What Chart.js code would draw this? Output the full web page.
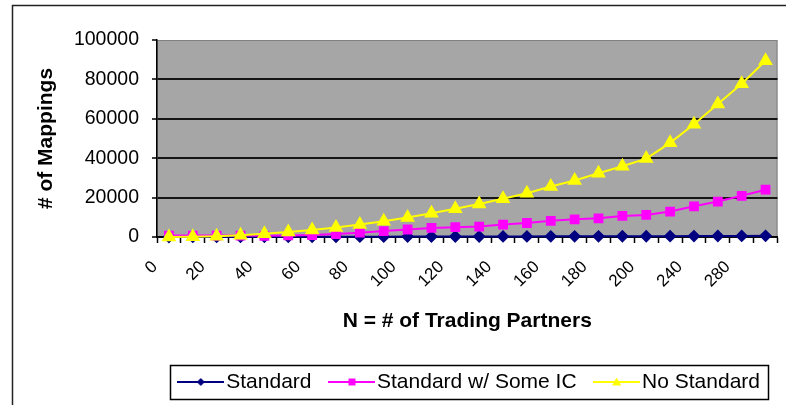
<!DOCTYPE html>
<html>
<head>
<meta charset="utf-8">
<script src="https://cdn.jsdelivr.net/npm/chart.js@4.4.1/dist/chart.umd.min.js"></script>
<style>
  html, body { margin: 0; padding: 0; background: #fff; }
  #c { display: block; }
</style>
</head>
<body>
<canvas id="c" width="786" height="405"></canvas>
<script>
// N = number of trading partners (category axis)
const partners = [0, 10, 20, 30, 40, 50, 60, 70, 80, 90, 100, 110, 120, 130, 140, 150,
                  160, 170, 180, 190, 200, 220, 240, 260, 280, 300];
// categories that carry a visible tick label
const labelledPartners = [0, 20, 40, 60, 80, 100, 120, 140, 160, 180, 200, 240, 280];

// number of mappings per scenario
const standard = [0, 20, 40, 60, 80, 100, 120, 140, 160, 180, 200, 220, 240, 260, 280, 300,
                  320, 340, 360, 380, 400, 440, 480, 520, 560, 600];
const standardSomeIC = [700, 700, 700, 700, 600, 800, 1000, 1500, 2200, 3000, 3800, 4600, 5000,
                        5300, 6300, 7100, 8200, 9000, 9500, 10700, 11200, 12900, 15600, 18000,
                        20900, 24000];
const noStandard = [0, 100, 400, 900, 1600, 2500, 3500, 4800, 6300, 8000, 9900, 12000, 14300,
                    16800, 19400, 22200, 25600, 28700, 32400, 35900, 39800, 47800, 57200,
                    67500, 77800, 89500];

const yTicks = [0, 20000, 40000, 60000, 80000, 100000];

Chart.defaults.font.family = "'Liberation Sans', Arial, sans-serif";
Chart.defaults.color = '#000';

// small "line with marker" swatches for the legend
function swatch(color, shape) {
  const c = document.createElement('canvas');
  c.width = 47; c.height = 14;
  const g = c.getContext('2d');
  g.strokeStyle = color; g.fillStyle = color; g.lineWidth = 2;
  g.beginPath(); g.moveTo(0, 7); g.lineTo(47, 7); g.stroke();
  g.beginPath();
  if (shape === 'diamond') {
    g.moveTo(23.5, 3); g.lineTo(27.5, 7); g.lineTo(23.5, 11); g.lineTo(19.5, 7);
  } else if (shape === 'square') {
    g.rect(20.5, 3.5, 7, 7);
  } else {
    g.moveTo(23.5, 2.5); g.lineTo(28, 10.5); g.lineTo(19, 10.5);
  }
  g.closePath(); g.fill();
  return c;
}
const swatches = [swatch('#000080', 'diamond'), swatch('#ff00ff', 'square'), swatch('#ffff00', 'triangle')];

const frame = {
  id: 'frame',
  beforeDraw(chart) {
    const { ctx, chartArea: a } = chart;
    ctx.save();
    ctx.fillStyle = '#fff';
    ctx.fillRect(0, 0, chart.width, chart.height);
    ctx.strokeStyle = '#222';
    ctx.lineWidth = 1.5;
    ctx.strokeRect(12.5, 5.5, chart.width + 40, chart.height + 40);
    ctx.fillStyle = '#a6a6a6';
    ctx.fillRect(a.left, a.top, a.right - a.left, a.bottom - a.top);
    ctx.strokeStyle = '#808080';
    ctx.lineWidth = 1;
    ctx.strokeRect(a.left + 0.5, a.top + 0.5, a.right - a.left - 1, a.bottom - a.top);
    ctx.restore();
  },
  afterDraw(chart) {
    const boxes = chart.legend && chart.legend.legendHitBoxes;
    if (!boxes || !boxes.length) return;
    const first = boxes[0], last = boxes[boxes.length - 1];
    const cy = first.top + first.height / 2;
    const ctx = chart.ctx;
    ctx.save();
    ctx.strokeStyle = '#000';
    ctx.lineWidth = 1.5;
    const x0 = Math.round(first.left - 15.5);
    const x1 = Math.round(last.left + last.width + 8);
    ctx.strokeRect(x0 + 0.5, Math.round(cy - 17) + 0.5, x1 - x0, 34);
    ctx.restore();
  }
};

new Chart(document.getElementById('c'), {
  type: 'line',
  data: {
    labels: partners,
    datasets: [
      { label: 'Standard', data: standard, borderColor: '#000080', backgroundColor: '#000080',
        pointStyle: 'rectRot', pointRadius: 5, borderWidth: 2, order: 3, clip: false },
      { label: 'Standard w/ Some IC', data: standardSomeIC, borderColor: '#ff00ff', backgroundColor: '#ff00ff',
        pointStyle: 'rect', pointRadius: 5.5, borderWidth: 2, order: 2, clip: false },
      { label: 'No Standard', data: noStandard, borderColor: '#ffff00', backgroundColor: '#ffff00',
        pointStyle: 'triangle', pointRadius: 6.5, borderWidth: 2, order: 1, clip: false }
    ]
  },
  options: {
    responsive: false,
    animation: false,
    devicePixelRatio: 1,
    layout: { padding: { left: 0, right: 1, top: 40, bottom: 2.5 } },
    elements: { line: { tension: 0 }, point: { borderWidth: 1 } },
    plugins: {
      tooltip: { enabled: false },
      legend: {
        position: 'bottom',
        align: 'end',
        labels: {
          usePointStyle: true,
          pointStyleWidth: 30,
          padding: 25,
          font: { size: 21 },
          color: '#000',
          generateLabels(chart) {
            return chart.data.datasets.map((ds, i) => ({
              text: ds.label,
              pointStyle: swatches[i],
              fillStyle: ds.backgroundColor,
              strokeStyle: ds.borderColor,
              lineWidth: 0,
              hidden: false,
              datasetIndex: i
            }));
          }
        }
      }
    },
    scales: {
      x: {
        type: 'category',
        offset: true,
        afterFit(s) { s.height = 109.5; s.paddingLeft = 0; s.paddingRight = 4; },
        grid: { offset: true, drawOnChartArea: false, drawTicks: true, tickLength: 6,
                tickColor: '#000', tickWidth: 1.5 },
        border: { color: '#000', width: 1.5 },
        ticks: {
          autoSkip: false, maxRotation: 45, minRotation: 45,
          labelOffset: -14, padding: 14,
          font: { size: 17 }, color: '#000',
          callback(v, i) {
            const n = partners[i];
            return labelledPartners.includes(n) ? String(n) : '';
          }
        },
        title: { display: true, text: 'N = # of Trading Partners', color: '#000',
                 font: { size: 21, weight: 'bold' }, padding: { top: 0, bottom: 13 } }
      },
      y: {
        min: 0, max: 100000,
        afterFit(s) { s.width = 157; },
        afterBuildTicks(s) { s.ticks = yTicks.map(v => ({ value: v })); },
        ticks: { padding: 13, font: { size: 19.5 }, color: '#000', callback: v => String(v) },
        grid: {
          color: c => (c.tick && c.tick.value === 100000) ? 'rgba(0,0,0,0)' : '#151515',
          lineWidth: 2, tickColor: '#000', tickLength: 5, tickWidth: 1.5
        },
        border: { color: '#000', width: 1.5 },
        title: { display: true, text: '# of Mappings', color: '#000',
                 font: { size: 21, weight: 'bold' }, padding: { top: 34, bottom: 0 } }
      }
    }
  },
  plugins: [frame]
});
</script>
</body>
</html>
